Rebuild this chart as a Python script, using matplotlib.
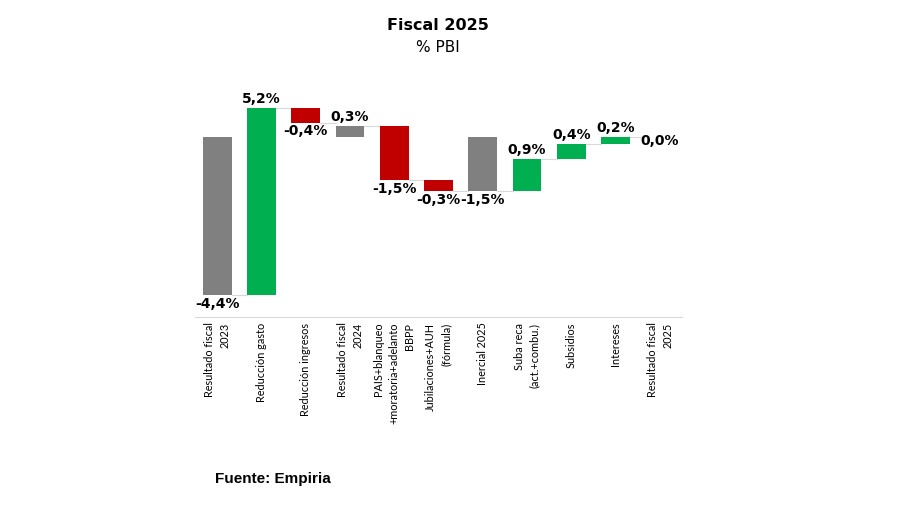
import matplotlib
matplotlib.use("Agg")
import matplotlib.pyplot as plt

categories = ["Resultado fiscal\n2023", "Reducción gasto", "Reducción ingresos",
              "Resultado fiscal\n2024", "PAIS+blanqueo\n+moratoria+adelanto\nBBPP",
              "Jubilaciones+AUH\n(fórmula)", "Inercial 2025", "Suba reca\n(act.+combu.)",
              "Subsidios", "Intereses", "Resultado fiscal\n2025"]
values = [-4.4, 5.2, -0.4, 0.3, -1.5, -0.3, -1.5, 0.9, 0.4, 0.2, 0.0]
is_total = [True, False, False, True, False, False, True, False, False, False, True]
labels = ["-4,4%", "5,2%", "-0,4%", "0,3%", "-1,5%", "-0,3%", "-1,5%", "0,9%", "0,4%", "0,2%", "0,0%"]

GRAY, GREEN, RED = "#808080", "#00B050", "#C00000"

fig = plt.figure(figsize=(9, 5.05), dpi=100)
ax = fig.add_axes([195/900, (505-317)/505, (682-195)/900, (317-101)/505])

running = 0.0
bottoms, heights, colors, ends = [], [], [], []
for v, t in zip(values, is_total):
    if t:
        b, h = 0.0, v
        running = v
        c = GRAY
    else:
        b, h = running, v
        running += v
        c = GREEN if v >= 0 else RED
    bottoms.append(b); heights.append(h); colors.append(c); ends.append(running)

x = list(range(len(values)))
w = 0.65
ax.bar(x, heights, bottom=bottoms, color=colors, width=w, zorder=3)

# connectors
for i in range(len(values) - 1):
    ax.plot([i + w/2, i + 1 - w/2], [ends[i], ends[i]], color="#D9D9D9", lw=0.8, zorder=2)

# labels
for i, (b, h, lab) in enumerate(zip(bottoms, heights, labels)):
    top = max(b, b + h)
    bot = min(b, b + h)
    if values[i] > 0:
        ax.text(i, top + 0.05, lab, ha="center", va="bottom", fontsize=10, fontweight="bold")
    elif values[i] < 0:
        ax.text(i, bot - 0.05, lab, ha="center", va="top", fontsize=10, fontweight="bold")
    else:
        ax.text(i, top + 0.08, lab, ha="center", va="top", fontsize=10, fontweight="bold")

ax.set_xlim(-0.5, len(values) - 0.5)
ax.set_ylim(-5, 1)
ax.set_yticks([])
ax.set_xticks(x)
ax.set_xticklabels(categories, rotation=90, ha="center", va="top", multialignment="right",
                   fontsize=7.8, family="Lato", linespacing=1.5)
ax.tick_params(axis="x", length=0, pad=4)
for s in ["top", "left", "right"]:
    ax.spines[s].set_visible(False)
ax.spines["bottom"].set_color("#D9D9D9")
ax.spines["bottom"].set_linewidth(0.8)

fig.text(438/900, 1 - 26/505, "Fiscal 2025", ha="center", va="center", fontsize=11.5, fontweight="bold")
fig.text(438/900, 1 - 48/505, "% PBI", ha="center", va="center", fontsize=11)
fig.text(215/900, 1 - 479/505, "Fuente: Empiria", ha="left", va="center", fontsize=11,
         fontweight="bold", family="Liberation Sans")

fig.savefig("out.png", dpi=100, facecolor="white")
